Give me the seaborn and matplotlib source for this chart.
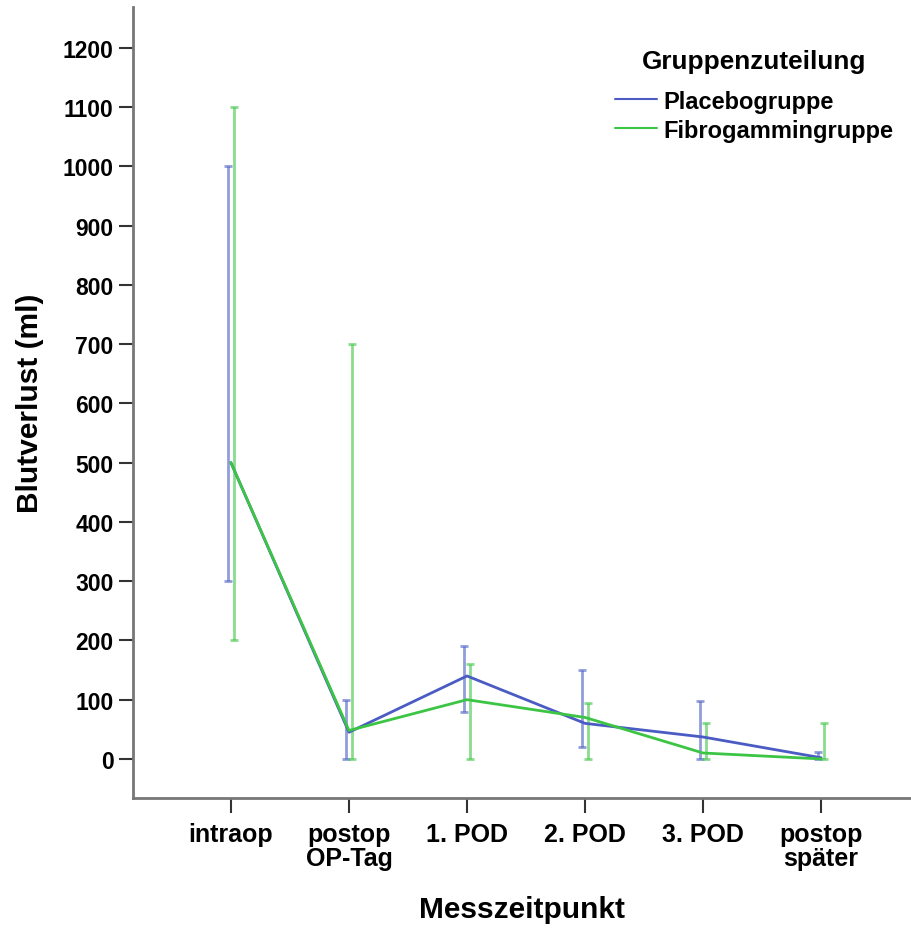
import matplotlib
matplotlib.use("Agg")
import matplotlib.pyplot as plt
import seaborn as sns
import pandas as pd
import numpy as np

# Measurement time points
categories = ["intraop", "postop\nOP-Tag", "1. POD", "2. POD", "3. POD", "postop\nspäter"]

# Blood loss (ml): central value and whisker range per group
placebo_mid = [500, 45, 140, 60, 37, 2]
placebo_low = [300, 0, 80, 20, 0, 0]
placebo_high = [1000, 100, 190, 150, 98, 12]

fibro_mid = [500, 48, 100, 70, 10, 0]
fibro_low = [200, 0, 0, 0, 0, 0]
fibro_high = [1100, 700, 160, 95, 60, 60]

groups = ["Placebogruppe", "Fibrogammingruppe"]
colors = {"Placebogruppe": "#4a5cc4", "Fibrogammingruppe": "#3cc544"}

y_ticks = list(range(0, 1201, 100))

sns.set_theme(style="white")
plt.rcParams.update({
    "font.family": ["Liberation Sans", "DejaVu Sans"],
    "font.weight": "bold",
    "text.color": "black",
    "axes.labelcolor": "black",
    "xtick.bottom": True,
    "ytick.left": True,
    "xtick.direction": "out",
    "ytick.direction": "out",
    "xtick.major.size": 11,
    "ytick.major.size": 10,
    "xtick.major.width": 1.5,
    "ytick.major.width": 1.5,
    "xtick.major.pad": 6.5,
    "ytick.major.pad": 4,
    "xtick.color": "#333333",
    "ytick.color": "#333333",
    "xtick.labelcolor": "black",
    "ytick.labelcolor": "black",
})

df = pd.DataFrame({
    "Messzeitpunkt": categories * 2,
    "Blutverlust": placebo_mid + fibro_mid,
    "Gruppe": [groups[0]] * len(categories) + [groups[1]] * len(categories),
})

fig = plt.figure(figsize=(9.12, 9.29), dpi=100)
ax = fig.add_axes([0.1458, 0.1399, 0.8542, 0.8515])

sns.lineplot(data=df, x="Messzeitpunkt", y="Blutverlust", hue="Gruppe",
             palette=colors, errorbar=None, linewidth=2, ax=ax, sort=False)

x = np.arange(len(categories))
offset = 0.025
for xs, mid, lo, hi, g in [
    (x - offset, placebo_mid, placebo_low, placebo_high, groups[0]),
    (x + offset, fibro_mid, fibro_low, fibro_high, groups[1]),
]:
    mid = np.array(mid, dtype=float)
    yerr = np.vstack([mid - np.array(lo), np.array(hi) - mid])
    ax.errorbar(xs, mid, yerr=yerr, fmt="none", ecolor=colors[g], alpha=0.6,
                elinewidth=2, capsize=3, capthick=2, zorder=1)

ax.set_xlim(-0.83, 5.77)
ax.set_ylim(-66, 1269)
ax.set_yticks(y_ticks)
ax.set_yticklabels([str(v) for v in y_ticks], fontsize=16.5, fontweight="bold")
ax.set_xticks(x)
ax.set_xticklabels(categories, fontsize=18, fontweight="bold", linespacing=1.0)

for s in ["top", "right"]:
    ax.spines[s].set_visible(False)
for s in ["left", "bottom"]:
    ax.spines[s].set_color("#777777")
    ax.spines[s].set_linewidth(2)

ax.set_xlabel("Messzeitpunkt", fontsize=21.5, fontweight="bold", labelpad=18)
ax.set_ylabel("Blutverlust (ml)", fontsize=21.5, fontweight="bold", labelpad=13.5)

leg = ax.legend(title="Gruppenzuteilung", loc="upper left", frameon=False,
                bbox_to_anchor=(615 / 912, 1 - 50 / 929),
                bbox_transform=fig.transFigure, borderpad=0, borderaxespad=0,
                fontsize=17, title_fontsize=18.8,
                handlelength=1.8, handletextpad=0.25, labelspacing=0.25)
leg.get_title().set_fontweight("bold")
for t in leg.get_texts():
    t.set_fontweight("bold")
for h in leg.get_lines():
    h.set_linewidth(1.5)
# extra room between the legend title and its entries
leg._legend_box.sep = 12

fig.savefig("out.png", dpi=100)
